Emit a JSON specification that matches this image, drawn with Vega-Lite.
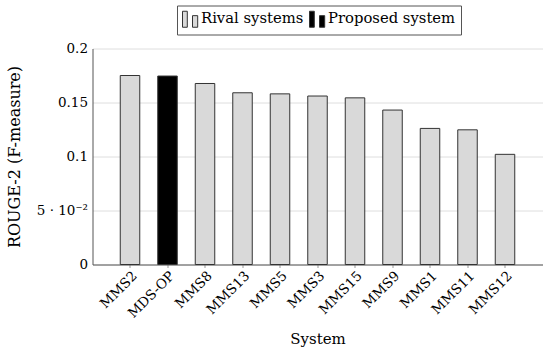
{
  "$schema": "https://vega.github.io/schema/vega-lite/v6.json",
  "autosize": "none",
  "width": 450,
  "height": 216,
  "padding": {"left": 92.5, "top": 48.5, "right": 7.5, "bottom": 90.5},
  "background": "white",
  "config": {
    "font": "DejaVu Serif",
    "view": {"stroke": null},
    "axis": {
      "labelColor": "black",
      "titleColor": "black",
      "titleFontWeight": "normal",
      "domainColor": "#555",
      "tickColor": "#999",
      "gridColor": "#dedede",
      "labelFontSize": 13.5,
      "titleFontSize": 15
    }
  },
  "data": {
    "values": [
      {"system": "MMS2", "rouge2": 0.175, "type": "Rival systems"},
      {"system": "MDS-OP", "rouge2": 0.1745, "type": "Proposed system"},
      {"system": "MMS8", "rouge2": 0.1676, "type": "Rival systems"},
      {"system": "MMS13", "rouge2": 0.159, "type": "Rival systems"},
      {"system": "MMS5", "rouge2": 0.158, "type": "Rival systems"},
      {"system": "MMS3", "rouge2": 0.156, "type": "Rival systems"},
      {"system": "MMS15", "rouge2": 0.1543, "type": "Rival systems"},
      {"system": "MMS9", "rouge2": 0.143, "type": "Rival systems"},
      {"system": "MMS1", "rouge2": 0.126, "type": "Rival systems"},
      {"system": "MMS11", "rouge2": 0.1247, "type": "Rival systems"},
      {"system": "MMS12", "rouge2": 0.102, "type": "Rival systems"}
    ]
  },
  "mark": {"type": "bar", "stroke": "#333", "strokeWidth": 1},
  "encoding": {
    "x": {
      "field": "system",
      "type": "nominal",
      "sort": null,
      "title": "System",
      "scale": {"paddingInner": 0.48, "paddingOuter": 0.74},
      "axis": {
        "labelAngle": -45,
        "labelAlign": "right",
        "labelBaseline": "top",
        "tickSize": 3,
        "labelPadding": 1,
        "titlePadding": 12,
        "grid": false
      }
    },
    "y": {
      "field": "rouge2",
      "type": "quantitative",
      "title": "ROUGE-2 (F-measure)",
      "scale": {"domain": [0, 0.2], "nice": false},
      "axis": {
        "values": [0, 0.05, 0.1, 0.15, 0.2],
        "labelExpr": "datum.value == 0.05 ? '5 · 10⁻²' : format(datum.value, '~g')",
        "tickSize": 0,
        "labelPadding": 5,
        "titlePadding": 14,
        "titleFontSize": 16,
        "grid": true
      }
    },
    "fill": {
      "field": "type",
      "type": "nominal",
      "scale": {"domain": ["Rival systems", "Proposed system"], "range": ["#d9d9d9", "#000000"]},
      "legend": {
        "title": null,
        "orient": "none",
        "direction": "horizontal",
        "legendX": 84.5,
        "legendY": -43,
        "strokeColor": "#555",
        "fillColor": "white",
        "padding": 5,
        "labelFontSize": 14.8,
        "labelColor": "black",
        "labelOffset": 2,
        "columnPadding": 3,
        "symbolType": "M-1,-1H-0.4V1H-1Z M0.25,-0.45H0.9V1H0.25Z",
        "symbolSize": 256,
        "symbolStrokeColor": "#333",
        "symbolStrokeWidth": 1
      }
    }
  }
}
